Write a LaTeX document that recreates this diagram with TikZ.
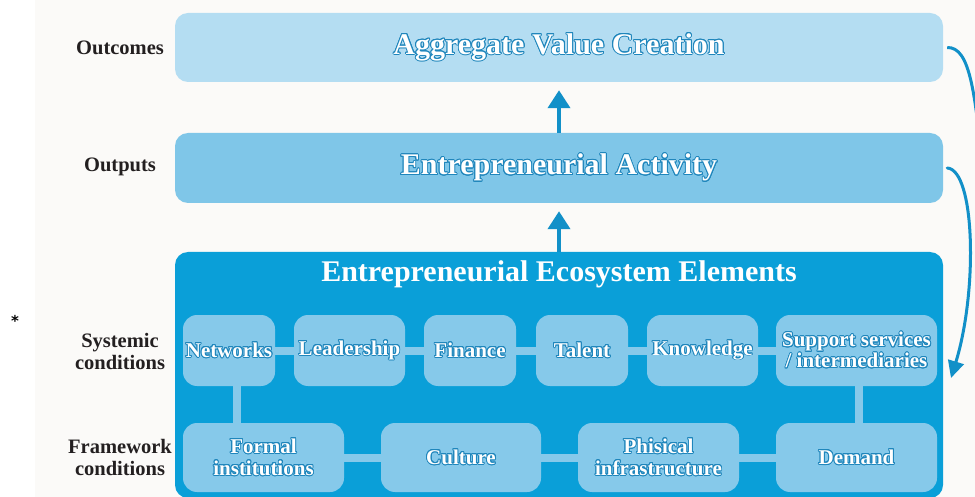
\documentclass[tikz,border=0pt]{standalone}
\usepackage{fontspec}
\setmainfont{Liberation Serif}
\newfontfamily\astfont{DejaVu Sans}
\usepackage[copies]{contour}
\contourlength{0.9pt}
\usetikzlibrary{arrows.meta}
\pgfdeclarelayer{bottom}
\pgfdeclarelayer{background}
\pgfsetlayers{bottom,background,main}
\definecolor{bgc}{HTML}{FBFAF8}
\definecolor{outc}{HTML}{B4DDF2}
\definecolor{outp}{HTML}{7FC6E8}
\definecolor{bigc}{HTML}{0A9FD8}
\definecolor{innc}{HTML}{86C9EA}
\definecolor{arrc}{HTML}{1290C8}
\definecolor{outl}{HTML}{1F86BC}
\definecolor{labc}{HTML}{231F20}
\newcommand\ot[1]{\contour{outl}{#1}}
\tikzset{
  x=1pt, y=-1pt,
  bigbox/.style={rounded corners=13pt, inner sep=0pt, minimum width=768pt, font=\bfseries\fontsize{30}{32}\selectfont, text=white},
  innbox/.style={fill=innc, rounded corners=14pt, inner sep=0pt, align=center, font=\bfseries\fontsize{21}{22}\selectfont, text=white},
  lab/.style={align=center, text=labc, font=\bfseries\fontsize{20.5}{22}\selectfont},
  conn/.style={draw=innc, line width=8pt},
  uparr/.style={draw=arrc, line width=4pt, -{Triangle[length=18pt,width=22pt]}},
  sidearr/.style={draw=arrc, line width=3pt, line cap=round, -{Triangle[length=17pt,width=16pt]}},
}
\begin{document}
\begin{tikzpicture}
\useasboundingbox (0,0) rectangle (975,497);
\clip (0,0) rectangle (975,497);
\begin{pgfonlayer}{bottom}
\fill[white] (0,0) rectangle (975,497);
\fill[bgc] (35,0) rectangle (975,497);
\node[bigbox, fill=bigc, minimum height=246pt] (eco) at (559,375) {};
\end{pgfonlayer}

% top boxes
\node[bigbox, fill=outc, minimum height=69pt] (outcomes) at (559,47.5) {\ot{Aggregate Value Creation}};
\node[bigbox, fill=outp, minimum height=70pt] (outputs) at (559,168) {\ot{Entrepreneurial Activity}};
\node[bigbox, minimum width=0pt] (ecot) at (559,274) {Entrepreneurial Ecosystem Elements};

% upper row
\node[innbox, minimum width=92pt, minimum height=71pt] (net) at (229,350.5) {\ot{Networks}};
\node[innbox, minimum width=111pt, minimum height=71pt] (lead) at (349.5,350.5) {\ot{Leadership}};
\node[innbox, minimum width=92pt, minimum height=71pt] (fin) at (470,350.5) {\ot{Finance}};
\node[innbox, minimum width=92pt, minimum height=71pt] (tal) at (582,350.5) {\ot{Talent}};
\node[innbox, minimum width=111pt, minimum height=71pt] (know) at (702.5,350.5) {\ot{Knowledge}};
\node[innbox, minimum width=161pt, minimum height=71pt] (sup) at (856.5,350.5) {\ot{Support services}\\[-1pt]\ot{/ intermediaries}};
% lower row
\node[innbox, minimum width=161pt, minimum height=69pt] (form) at (263.5,457.5) {\ot{Formal}\\\ot{institutions}};
\node[innbox, minimum width=160pt, minimum height=69pt] (cult) at (461,457.5) {\ot{Culture}};
\node[innbox, minimum width=161pt, minimum height=69pt] (phis) at (658.5,457.5) {\ot{Phisical}\\\ot{infrastructure}};
\node[innbox, minimum width=161pt, minimum height=69pt] (dem) at (856.5,457.5) {\ot{Demand}};

\begin{pgfonlayer}{background}
\draw[conn] (net) -- (lead) -- (fin) -- (tal) -- (know) -- (sup);
\draw[conn] (form) -- (cult) -- (phis) -- (dem);
\draw[conn] ([xshift=8pt]net.center) -- ([xshift=8pt]net.center |- form.center);
\draw[conn] ([xshift=2pt]sup.center) -- ([xshift=2pt]dem.center);
\end{pgfonlayer}

% vertical arrows
\draw[uparr] (outputs.north) -- ([yshift=-8pt]outcomes.south);
\draw[uparr] (eco.north) -- ([yshift=-8pt]outputs.south);

% side arrows
\coordinate (off) at (985,200);
\coordinate (tip) at (951,378);
\draw[draw=arrc, line width=3pt] ([xshift=4pt]outcomes.east) .. controls (970,47) and (976,90) .. (off);
\draw[sidearr] ([xshift=4pt]outputs.east) .. controls (975,170) and (978,290) .. (tip);

% left labels
\node[lab] (l1) at (120,47.5) {Outcomes};
\node[lab] (l2) at (120,166.5) {Outputs};
\node[lab] (l3) at (120,351) {Systemic\\conditions};
\node[lab] (l4) at (120,457.5) {Framework\\conditions};
\node[font=\astfont\bfseries\fontsize{15}{15}\selectfont, text=black] (ast) at (15,321) {*};
\end{tikzpicture}
\end{document}
